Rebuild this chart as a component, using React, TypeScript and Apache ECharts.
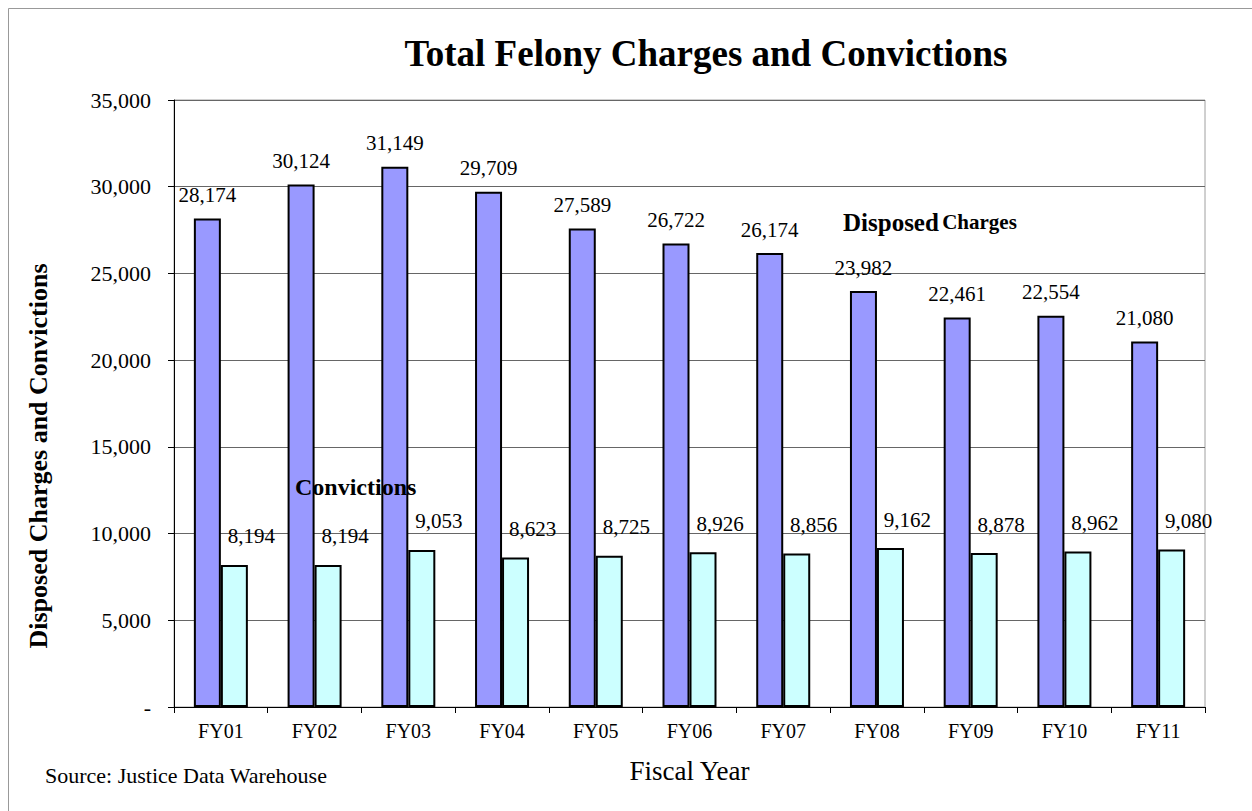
import React, { useEffect, useRef } from "react";
import * as echarts from "echarts";

const categories = ["FY01", "FY02", "FY03", "FY04", "FY05", "FY06", "FY07", "FY08", "FY09", "FY10", "FY11"];
const disposedCharges = [28174, 30124, 31149, 29709, 27589, 26722, 26174, 23982, 22461, 22554, 21080];
const convictions = [8194, 8194, 9053, 8623, 8725, 8926, 8856, 9162, 8878, 8962, 9080];

const FONT = "'Liberation Serif', 'Times New Roman', serif";

function fmt(v: number): string {
  if (v === 0) return "-";
  return v.toString().replace(/\B(?=(\d{3})+(?!\d))/g, ",");
}

export default function App() {
  const ref = useRef<HTMLDivElement>(null);
  useEffect(() => {
    if (!ref.current) return;
    const chart = echarts.init(ref.current, undefined, { renderer: "svg" });
    chart.setOption({
      animation: false,
      backgroundColor: "#ffffff",
      textStyle: { fontFamily: FONT },
      title: {
        text: "Total Felony Charges and Convictions",
        left: 701,
        top: 30,
        textAlign: "center",
        textStyle: { fontFamily: FONT, fontSize: 37, fontWeight: "bold", color: "#000" },
      },
      grid: {
        left: 174,
        top: 100,
        width: 1031,
        height: 607,
        show: true,
        borderColor: "#a0a0a0",
        borderWidth: 1,
        containLabel: false,
      },
      xAxis: {
        type: "category",
        data: categories,
        name: "Fiscal Year",
        nameLocation: "middle",
        nameGap: 50,
        nameTextStyle: { fontFamily: FONT, fontSize: 27, color: "#000" },
        axisLine: { lineStyle: { color: "#000", width: 1 } },
        axisTick: { show: true, length: 6, lineStyle: { color: "#000" } },
        axisLabel: { fontFamily: FONT, fontSize: 20, color: "#000", margin: 14 },
      },
      yAxis: {
        type: "value",
        min: 0,
        max: 35000,
        interval: 5000,
        axisLine: { show: true, lineStyle: { color: "#000", width: 1 } },
        axisTick: { show: true, length: 6, lineStyle: { color: "#000" } },
        axisLabel: {
          fontFamily: FONT,
          fontSize: 22,
          color: "#000",
          margin: 23,
          formatter: (v: number) => fmt(v),
        },
        splitLine: { show: true, lineStyle: { color: "#666", width: 1 } },
      },
      series: [
        {
          name: "Disposed Charges",
          type: "bar",
          data: disposedCharges,
          barWidth: 27,
          barGap: "0%",
          itemStyle: { color: "#9999FF", borderColor: "#000", borderWidth: 2 },
          label: {
            show: true,
            position: "top",
            offset: [0, -8],
            fontFamily: FONT,
            fontSize: 21,
            color: "#000",
            formatter: (p: any) => fmt(p.value),
          },
        },
        {
          name: "Convictions",
          type: "bar",
          data: convictions,
          barWidth: 27,
          barGap: "0%",
          itemStyle: { color: "#CCFFFF", borderColor: "#000", borderWidth: 2 },
          label: {
            show: true,
            position: "top",
            offset: [17, -13],
            fontFamily: FONT,
            fontSize: 21,
            color: "#000",
            formatter: (p: any) => fmt(p.value),
          },
        },
      ],
      graphic: [
        {
          type: "rect",
          z: 100,
          shape: { x: 8.5, y: 8.5, width: 1300, height: 900 },
          style: { fill: "none", stroke: "#999", lineWidth: 1 },
          silent: true,
        },
        {
          type: "text",
          z: 100,
          x: 38,
          y: 456,
          rotation: Math.PI / 2,
          style: {
            text: "Disposed Charges and Convictions",
            fontFamily: FONT,
            fontSize: 26,
            fontWeight: "bold",
            fill: "#000",
            align: "center",
            verticalAlign: "middle",
          },
        },
        {
          type: "text",
          z: 100,
          x: 843,
          y: 222,
          style: {
            text: "{a|Disposed} {b|Charges}",
            rich: {
              a: { fontFamily: FONT, fontSize: 25, fontWeight: "bold", fill: "#000" },
              b: { fontFamily: FONT, fontSize: 21, fontWeight: "bold", fill: "#000" },
            },
            verticalAlign: "middle",
          },
        },
        {
          type: "text",
          z: 100,
          x: 295,
          y: 487,
          style: {
            text: "Convictions",
            fontFamily: FONT,
            fontSize: 24,
            fontWeight: "bold",
            fill: "#000",
            verticalAlign: "middle",
          },
        },
        {
          type: "text",
          z: 100,
          x: 45,
          y: 775,
          style: {
            text: "Source: Justice Data Warehouse",
            fontFamily: FONT,
            fontSize: 22,
            fill: "#000",
            verticalAlign: "middle",
          },
        },
      ],
    });
    return () => chart.dispose();
  }, []);
  return (
    <div
      ref={ref}
      style={{ position: "fixed", left: 0, top: 0, width: 1252, height: 811, background: "#fff" }}
    />
  );
}
